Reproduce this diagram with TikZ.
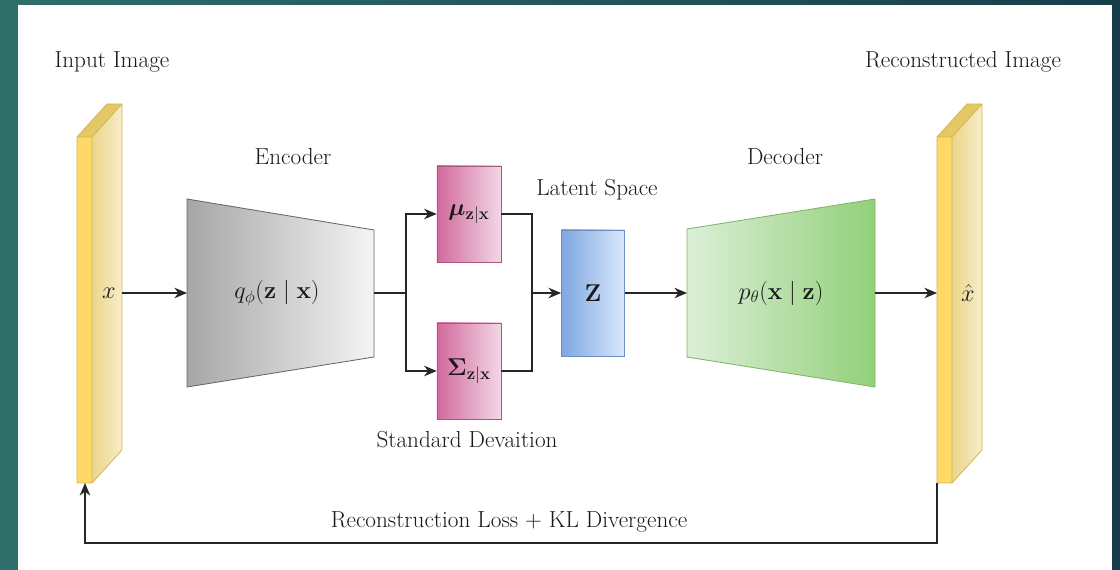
\documentclass[tikz,border=0pt]{standalone}
\usepackage{amsmath,amssymb,bm}
\usepackage{tikz}
\usetikzlibrary{arrows.meta,positioning}

\definecolor{frameteal}{HTML}{2F6E69}
\definecolor{framedark}{HTML}{173E4B}
\definecolor{slabfront}{HTML}{FFD966}
\definecolor{slabtop}{HTML}{E3C865}
\definecolor{slabsideL}{HTML}{EBD68A}
\definecolor{slabsideR}{HTML}{F6EDC8}
\definecolor{slabline}{HTML}{D6B656}
\definecolor{encL}{HTML}{A6A6A6}
\definecolor{encR}{HTML}{F4F4F4}
\definecolor{decL}{HTML}{DCEFD8}
\definecolor{decR}{HTML}{92D07A}
\definecolor{decline}{HTML}{82B366}
\definecolor{pinkL}{HTML}{D3699D}
\definecolor{pinkR}{HTML}{F1D8E5}
\definecolor{pinkline}{HTML}{A9577F}
\definecolor{blueL}{HTML}{7EA6E0}
\definecolor{blueR}{HTML}{DAE8FC}
\definecolor{blueline}{HTML}{6C8EBF}

\tikzset{
  lbl/.style={font=\fontsize{16.5}{19}\selectfont, text=black!90},
  wire/.style={line width=0.9pt, draw=black!85},
  flow/.style={wire, -{Stealth[length=9pt,width=7.5pt]}},
  pinkbox/.style={rectangle, draw=pinkline, left color=pinkL, right color=pinkR,
    minimum width=1.6cm, minimum height=2.4cm, lbl},
}

\begin{document}
\begin{tikzpicture}[x=0.025cm,y=-0.025cm]
  \useasboundingbox (0,0) rectangle (1120,570);
  % frame
  \fill[white] (0,0) rectangle (1120,570);
  \fill[frameteal] (0,0) rectangle (18,570);
  \fill[framedark] (1112,0) rectangle (1120,570);
  \shade[left color=frameteal, right color=framedark] (0,0) rectangle (1120,5);

  % titles
  \node[lbl] (inlbl) at (112,62) {Input Image};
  \node[lbl] (outlbl) at (963,62) {Reconstructed Image};
  \node[lbl] (enclbl) at (293,157) {Encoder};
  \node[lbl] (declbl) at (785,157) {Decoder};
  \node[lbl] (latlbl) at (597,190) {Latent Space};
  \node[lbl] (stdlbl) at (467,440) {Standard Devaition};

  % image slabs
  \foreach \sx/\nm in {77/x,937/xhat}{
    \fill[slabtop] (\sx,137) -- (\sx+30,104) -- (\sx+45,104) -- (\sx+15,137) -- cycle;
    \shade[left color=slabsideL, right color=slabsideR]
      (\sx+15,137) -- (\sx+45,104) -- (\sx+45,450) -- (\sx+15,483) -- cycle;
    \fill[slabfront] (\sx,137) rectangle (\sx+15,483);
    \draw[slabline, line width=0.6pt] (\sx,137) -- (\sx+30,104) -- (\sx+45,104)
      -- (\sx+45,450) -- (\sx+15,483) -- (\sx,483) -- cycle
      (\sx,137) -- (\sx+15,137) -- (\sx+45,104) (\sx+15,137) -- (\sx+15,483);
    \coordinate (\nm-in) at (\sx,293);
    \coordinate (\nm-out) at (\sx+45,293);
    \coordinate (\nm-foot) at (\sx,483);
  }
  \coordinate (x-foot) at (85,483);
  \node[lbl] (x) at (109,293) {$x$};
  \node[lbl] (xhat) at (968,293) {$\hat{x}$};

  % encoder
  \shadedraw[left color=encL, right color=encR, draw=black!60, line width=0.6pt]
    (187,199) -- (374,230) -- (374,357) -- (187,387) -- cycle;
  \node[lbl] (enc) at (277,293) {$q_\phi(\mathbf{z}\mid\mathbf{x})$};
  \coordinate (enc-in) at (187,293);
  \coordinate (enc-out) at (374,293);

  % decoder
  \shadedraw[left color=decL, right color=decR, draw=decline, line width=0.6pt]
    (687,229) -- (875,199) -- (875,387) -- (687,357) -- cycle;
  \node[lbl] (dec) at (781,293) {$p_\theta(\mathbf{x}\mid\mathbf{z})$};
  \coordinate (dec-in) at (687,293);
  \coordinate (dec-out) at (875,293);

  % mean, deviation, latent
  \node[pinkbox] (mu) at (469,214) {$\boldsymbol{\mu}_{\mathbf{z}|\mathbf{x}}$};
  \node[pinkbox] (sigma) at (469,371) {$\boldsymbol{\Sigma}_{\mathbf{z}|\mathbf{x}}$};
  \node[rectangle, draw=blueline, left color=blueL, right color=blueR,
    minimum width=1.58cm, minimum height=3.15cm, lbl] (z) at (593,293) {$\mathbf{Z}$};

  % connectors
  \coordinate (split) at (406,293);
  \coordinate (merge) at (532,293);
  \draw[flow] (x-out) -- (enc-in);
  \draw[wire] (enc-out) -- (split);
  \draw[flow] (split) |- (mu.west);
  \draw[flow] (split) |- (sigma.west);
  \draw[wire] (mu.east) -| (merge);
  \draw[wire] (sigma.east) -| (merge);
  \draw[flow] (merge) -- (z.west);
  \draw[flow] (z.east) -- (dec-in);
  \draw[flow] (dec-out) -- (xhat-in);
  \draw[flow] (xhat-foot) -- ++(0,60) -| (x-foot);
  \node[lbl] (losslbl) at (509,522) {Reconstruction Loss + KL Divergence};
\end{tikzpicture}
\end{document}
